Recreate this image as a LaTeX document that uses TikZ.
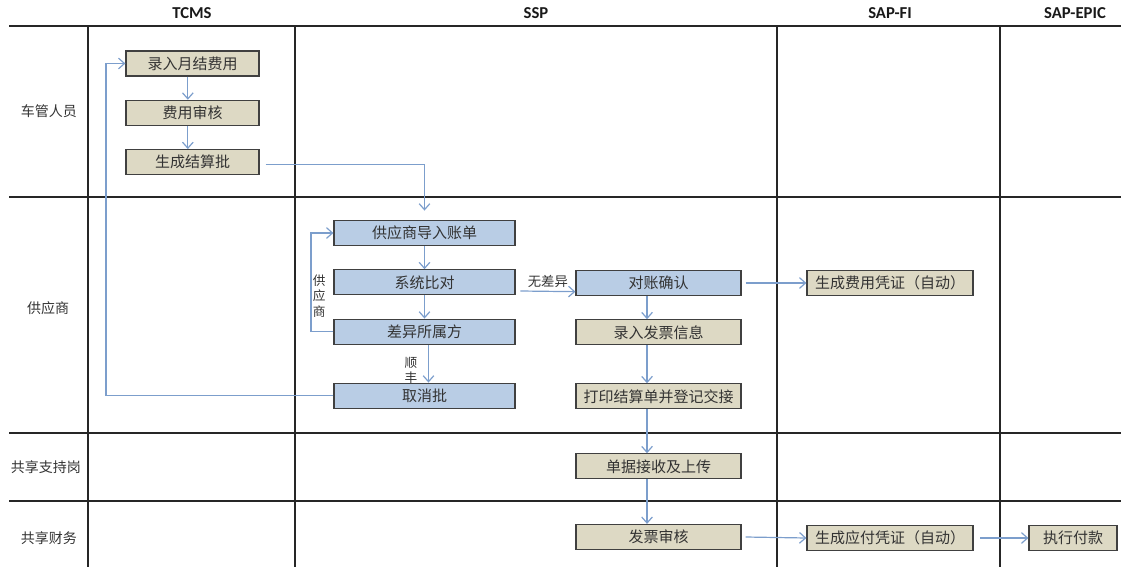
\documentclass[tikz,border=0pt]{standalone}
\usepackage{fontspec}
\setmainfont{Carlito}
\newfontfamily\cjk{Noto Sans CJK SC}
\usepackage{xcolor}
\usetikzlibrary{arrows.meta, positioning}
\definecolor{tanfill}{RGB}{221,217,196}
\definecolor{bluefill}{RGB}{185,205,229}
\definecolor{flowline}{RGB}{124,158,204}
\tikzstyle{tanbox} = [rectangle, minimum height=18.75pt, inner sep=0pt, text centered, draw=black!75, line width=0.9pt, fill=tanfill, text=black!80, font=\cjk\fontsize{11.25}{13}\selectfont]
\tikzstyle{bluebox} = [tanbox, fill=bluefill]
\tikzstyle{lanelabel} = [text=black!80, font=\cjk\fontsize{10.5}{12}\selectfont]
\tikzstyle{header} = [text=black!90, font=\bfseries\fontsize{12.5}{14}\selectfont]
\tikzstyle{flowtext} = [text=black!80, inner sep=1pt, font=\cjk\fontsize{9.5}{11.5}\selectfont]
\tikzstyle{grid} = [line width=1.5pt, black!85]
\tikzstyle{arrow} = [line width=0.9pt, flowline, -{Straight Barb[length=4.5pt,width=8pt]}]

\begin{document}
\begin{tikzpicture}[x=0.75pt, y=-0.75pt, node distance=37pt]
	\useasboundingbox (0,0) rectangle (1121,578);
	
	% swimlane table
	\foreach \y in {26,197,433,501}
		\draw [grid] (9,\y) -- (1121,\y);
	\foreach \x in {88,295,777,1000}
		\draw [grid] (\x,26) -- (\x,567);
	
	\node (hTCMS) [header] at (192,13) {TCMS};
	\node (hSSP) [header] at (536,13) {SSP};
	\node (hFI) [header] at (890,13) {SAP-FI};
	\node (hEPIC) [header] at (1075,13) {SAP-EPIC};
	
	\node (lDriver) [lanelabel] at (49,111) {车管人员};
	\node (lSupplier) [lanelabel] at (48,308) {供应商};
	\node (lSupport) [lanelabel] at (46,467) {共享支持岗};
	\node (lFinance) [lanelabel] at (49,538) {共享财务};
	
	% TCMS
	\node (entry) [tanbox, minimum width=99.75pt] at (192.5,63.5) {录入月结费用};
	\node (audit) [tanbox, minimum width=99.75pt, below of=entry] {费用审核};
	\node (batch) [tanbox, minimum width=99.75pt, below of=audit] {生成结算批};
	
	% SSP
	\node (import) [bluebox, minimum width=135.75pt] at (424.5,233) {供应商导入账单};
	\node (compare) [bluebox, minimum width=135.75pt, below of=import] {系统比对};
	\node (diff) [bluebox, minimum width=135.75pt, below of=compare] {差异所属方};
	\node (cancel) [bluebox, minimum width=135.75pt, below of=diff, yshift=-11pt] {取消批};
	
	\node (confirm) [bluebox, minimum width=123.75pt] at (658.5,283) {对账确认};
	\node (invoice) [tanbox, minimum width=123.75pt, below of=confirm] {录入发票信息};
	\node (print) [tanbox, minimum width=123.75pt, below of=invoice, yshift=-11pt] {打印结算单并登记交接};
	\node (receive) [tanbox, minimum width=123.75pt, below of=print, yshift=-15.5pt] {单据接收及上传};
	\node (invaudit) [tanbox, minimum width=123.75pt, below of=receive, yshift=-16pt] {发票审核};
	
	% SAP
	\node (costv) [tanbox, minimum width=124.5pt] at (890,283) {生成费用凭证（自动）};
	\node (payv) [tanbox, minimum width=124.5pt] at (890,538) {生成应付凭证（自动）};
	\node (payout) [tanbox, minimum width=66pt] at (1073,538) {执行付款};
	
	\coordinate (loopL) at (106,0);
	\coordinate (loopS) at (311,0);
	
	\draw [arrow] ([xshift=-3.5pt]entry.south) -- ([xshift=-3.5pt]audit.north);
	\draw [arrow] ([xshift=-3.5pt]audit.south) -- ([xshift=-3.5pt]batch.north);
	\draw [arrow] ([xshift=4.5pt,yshift=-2pt]batch.east) -| ([yshift=7pt]import.north);
	
	\draw [arrow] (import) -- (compare);
	\draw [arrow] (compare) -- (diff);
	\draw [arrow] ([xshift=3pt]diff.south) -- ([xshift=3pt]cancel.north)
		node[flowtext, midway, left, align=center, xshift=-7pt, yshift=-5pt] {顺\\丰};
	\draw [arrow] (diff.west) -- (diff.west -| loopS) |- (import.west)
		node[flowtext, pos=0.18, right, align=center] {供\\应\\商};
	\draw [arrow] (cancel.west) -- (cancel.west -| loopL) |- (entry.west);
	
	\draw [arrow] ([xshift=3.5pt,yshift=-6.5pt]compare.east) -- ([yshift=-6.5pt]confirm.west)
		node[flowtext, midway, above, yshift=1pt, font=\cjk\fontsize{10}{12}\selectfont] {无差异};
	\draw [arrow] ([xshift=3pt]confirm.east) -- (costv.west);
	
	\draw [arrow] ([xshift=-8.6pt]confirm.south) -- ([xshift=-8.6pt]invoice.north);
	\draw [arrow] ([xshift=-8.6pt]invoice.south) -- ([xshift=-8.6pt]print.north);
	\draw [arrow] ([xshift=-8.6pt]print.south) -- ([xshift=-8.6pt]receive.north);
	\draw [arrow] ([xshift=-8.6pt]receive.south) -- ([xshift=-8.6pt]invaudit.north);
	
	\draw [arrow] ([xshift=3pt]invaudit.east) -- (payv.west);
	\draw [arrow] ([xshift=5pt]payv.east) -- (payout.west);
	
\end{tikzpicture}
\end{document}
